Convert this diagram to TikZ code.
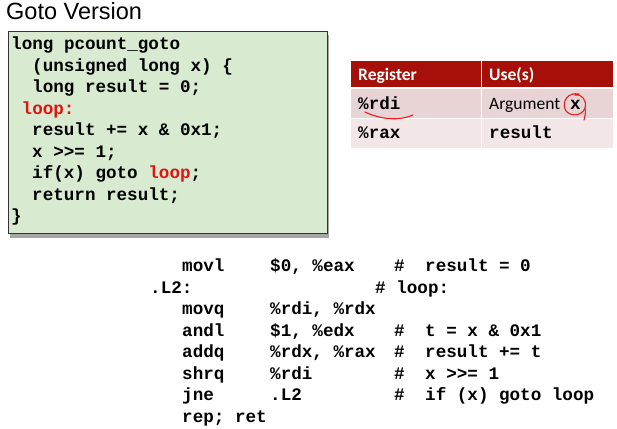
\documentclass[tikz,border=0pt]{standalone}
\usepackage{fontspec}
\setmainfont{Liberation Sans}
\setmonofont{Liberation Mono}
\newfontfamily\hdfont{Carlito}
\definecolor{boxgreen}{RGB}{216,234,208}
\definecolor{hdred}{RGB}{166,16,8}
\definecolor{rowa}{RGB}{232,212,212}
\definecolor{rowb}{RGB}{243,230,230}
\definecolor{codered}{RGB}{222,20,16}
\definecolor{annred}{RGB}{232,30,30}
\tikzset{
  code/.style={anchor=base west, inner sep=0pt, font=\ttfamily\bfseries\fontsize{17.6}{20}\selectfont},
  hdtext/.style={anchor=base west, inner sep=0pt, text=white, font=\hdfont\bfseries\fontsize{17.5}{20}\selectfont},
  celltext/.style={anchor=base west, inner sep=0pt, font=\hdfont\fontsize{17.5}{20}\selectfont},
  annot/.style={draw=annred, line width=1.1pt, line cap=round}
}
\begin{document}
\begin{tikzpicture}[x=1pt,y=-1pt]
\useasboundingbox (0,0) rectangle (617,428);
\fill[white] (0,0) rectangle (617,428);
% title
\node[anchor=base west, inner sep=0pt, font=\fontsize{23.5}{27}\selectfont] (title) at (6,20) {Goto Version};
% code box
\fill[black!35] (10,35) rectangle (329,238);
\draw[black!80, fill=boxgreen, line width=0.8pt] (8,31) rectangle (327,233);
\node[code] (c1) at (11,49.5) {long pcount\_goto};
\node[code] (c2) at (32,71) {(unsigned long x) \{};
\node[code] (c3) at (32,92.5) {long result = 0;};
\node[code, text=codered] (c4) at (21.5,114) {loop:};
\node[code] (c5) at (32,135.5) {result += x \& 0x1;};
\node[code] (c6) at (32,157) {x >>= 1;};
\node[code] (c7) at (32,178.5) {if(x) goto \textcolor{codered}{loop};};
\node[code] (c8) at (32,200) {return result;};
\node[code] (c9) at (11,221.5) {\}};
% table
\fill[hdred] (351,61) rectangle (480.5,87);
\fill[hdred] (482,61) rectangle (613,87);
\fill[rowa] (351,88.5) rectangle (480.5,117.5);
\fill[rowa] (482,88.5) rectangle (613,117.5);
\fill[rowb] (351,119) rectangle (480.5,148);
\fill[rowb] (482,119) rectangle (613,148);
\node[hdtext] (h1) at (358,80) {Register};
\node[hdtext] (h2) at (489,80) {Use(s)};
\node[code] (r1a) at (358,109) {\%rdi};
\node[celltext] (r1b) at (489,109) {Argument};
\node[code] (r1x) at (570,109) {x};
\node[code] (r2a) at (358,138.5) {\%rax};
\node[code] (r2b) at (489,138.5) {result};
% annotations
\draw[annot] (365,112) .. controls (384,121) and (402,120) .. (413,115);
\draw[annot] (579,94) .. controls (568,92) and (562,101) .. (565,109)
  .. controls (568,117) and (582,117) .. (585,108)
  .. controls (587,100) and (582,94) .. (575,95);
\draw[annot] (585,108) .. controls (586,112) and (585,116) .. (584,120);
% assembly
\node[code] (a1m) at (182,271.5) {movl};
\node[code] (a1o) at (270,271.5) {\$0, \%eax};
\node[code] (a1h) at (394,271.5) {\#};
\node[code] (a1c) at (425,271.5) {result = 0};
\node[code] (a2l) at (150,293) {.L2:};
\node[code] (a2c) at (375,293) {\# loop:};
\node[code] (a3m) at (182,314.5) {movq};
\node[code] (a3o) at (270,314.5) {\%rdi, \%rdx};
\node[code] (a4m) at (182,336) {andl};
\node[code] (a4o) at (270,336) {\$1, \%edx};
\node[code] (a4h) at (394,336) {\#};
\node[code] (a4c) at (425,336) {t = x \& 0x1};
\node[code] (a5m) at (182,357.5) {addq};
\node[code] (a5o) at (270,357.5) {\%rdx, \%rax};
\node[code] (a5h) at (394,357.5) {\#};
\node[code] (a5c) at (425,357.5) {result += t};
\node[code] (a6m) at (182,379) {shrq};
\node[code] (a6o) at (270,379) {\%rdi};
\node[code] (a6h) at (394,379) {\#};
\node[code] (a6c) at (425,379) {x >>= 1};
\node[code] (a7m) at (182,400.5) {jne};
\node[code] (a7o) at (270,400.5) {.L2};
\node[code] (a7h) at (394,400.5) {\#};
\node[code] (a7c) at (425,400.5) {if (x) goto loop};
\node[code] (a8m) at (182,422) {rep; ret};
\end{tikzpicture}
\end{document}
